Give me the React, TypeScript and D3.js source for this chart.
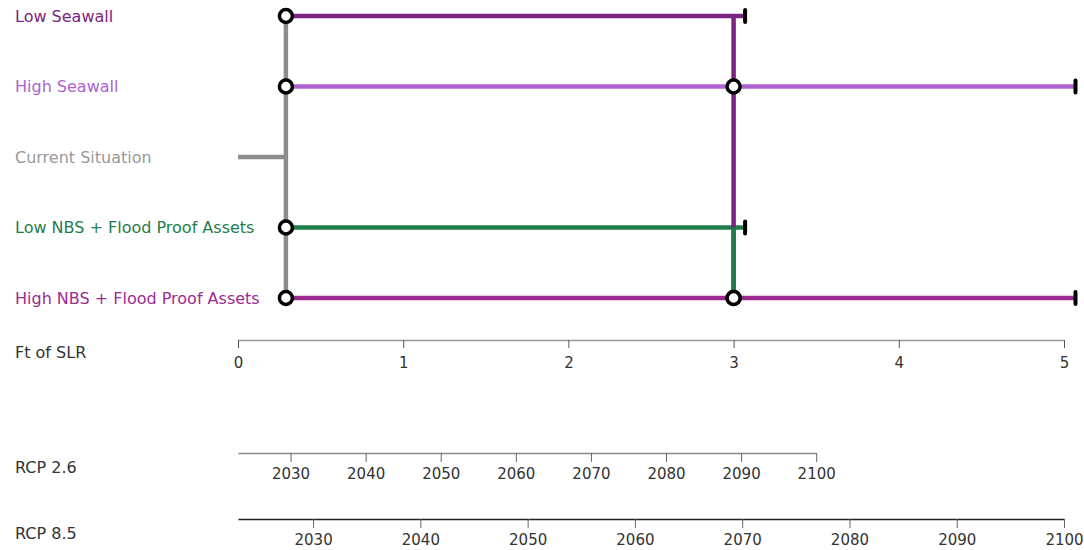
import React, { useEffect, useRef } from "react";
import * as d3 from "d3";

// ---------- data ----------
const pathwayNames = [
  "Low Seawall",
  "High Seawall",
  "Current Situation",
  "Low NBS + Flood Proof Assets",
  "High NBS + Flood Proof Assets",
];
const pathwayColors = ["#7b2482", "#b062d0", "#8c8c8c", "#1f7d4b", "#9c2b91"];
const labelColors = ["#7b2482", "#b062d0", "#999999", "#1f7d4b", "#9c2b91"];
// ft of SLR where each action starts / reaches its tipping point
const actionStart = [0.29, 0.29, 0, 0.29, 0.29];
const actionEnd = [3, 5, 0.29, 3, 5];
const hasTerminal = [true, true, false, true, true];
// transfers: from pathway -> to pathways at a given ft of SLR
const transferFrom = ["Current Situation", "Low Seawall", "Low NBS + Flood Proof Assets"];
const transferAt = [0.29, 3, 3];
const transferTo = [
  ["Low Seawall", "High Seawall", "Low NBS + Flood Proof Assets", "High NBS + Flood Proof Assets"],
  ["High Seawall", "High NBS + Flood Proof Assets"],
  ["High NBS + Flood Proof Assets"],
];

const slrTicks = [0, 1, 2, 3, 4, 5];
const rcpNames = ["RCP 2.6", "RCP 8.5"];
const rcpStartYear = 2023;
const rcpEndYear = 2100;
const rcpSlrAtEnd = [3.5, 5];
const yearTicks = [2030, 2040, 2050, 2060, 2070, 2080, 2090, 2100];

// ---------- layout ----------
const W = 1084;
const H = 550;
const FONT = "'DejaVu Sans', Verdana, sans-serif";

export default function App() {
  const ref = useRef<SVGSVGElement | null>(null);

  useEffect(() => {
    const svg = d3.select(ref.current);
    svg.selectAll("*").remove();

    const x = d3.scaleLinear().domain([0, 5]).range([238, 1064]);
    const y = d3.scalePoint<string>().domain(pathwayNames).range([16, 298]);
    const overshoot = 11.5;

    // labels
    svg
      .append("g")
      .selectAll("text")
      .data(pathwayNames)
      .join("text")
      .attr("x", 15)
      .attr("y", (d) => y(d)!)
      .attr("dominant-baseline", "central")
      .attr("font-family", FONT)
      .attr("font-size", 16)
      .attr("fill", (_, i) => labelColors[i])
      .text((d) => d);

    const g = svg.append("g");

    // horizontal lines
    pathwayNames.forEach((name, i) => {
      const x2 = x(actionEnd[i]) + (hasTerminal[i] ? overshoot : 0);
      g.append("line")
        .attr("x1", x(actionStart[i]))
        .attr("x2", x2)
        .attr("y1", y(name)!)
        .attr("y2", y(name)!)
        .attr("stroke", pathwayColors[i])
        .attr("stroke-width", 4.5);
    });

    // transfer verticals
    transferFrom.forEach((from, k) => {
      const fi = pathwayNames.indexOf(from);
      const ys = [from, ...transferTo[k]].map((n) => y(n)!);
      g.append("line")
        .attr("x1", x(transferAt[k]))
        .attr("x2", x(transferAt[k]))
        .attr("y1", d3.min(ys)!)
        .attr("y2", d3.max(ys)!)
        .attr("stroke", pathwayColors[fi])
        .attr("stroke-width", 4.5);
    });

    // terminal ticks
    pathwayNames.forEach((name, i) => {
      if (!hasTerminal[i]) return;
      const xe = x(actionEnd[i]) + overshoot;
      g.append("line")
        .attr("x1", xe)
        .attr("x2", xe)
        .attr("y1", y(name)! - 6)
        .attr("y2", y(name)! + 6)
        .attr("stroke", "#000")
        .attr("stroke-width", 4)
        .attr("stroke-linecap", "round");
    });

    // circles at action starts and transfer targets
    const circles: { x: number; y: number }[] = [];
    pathwayNames.forEach((name, i) => {
      if (name === "Current Situation") return;
      circles.push({ x: x(actionStart[i]), y: y(name)! });
    });
    transferFrom.forEach((from, k) => {
      if (from === "Current Situation") return;
      transferTo[k].forEach((t) => circles.push({ x: x(transferAt[k]), y: y(t)! }));
    });
    g.selectAll("circle.node")
      .data(circles)
      .join("circle")
      .attr("class", "node")
      .attr("cx", (d) => d.x)
      .attr("cy", (d) => d.y)
      .attr("r", 6.5)
      .attr("fill", "#fff")
      .attr("stroke", "#000")
      .attr("stroke-width", 3.5);

    // SLR axis
    const slrY = 340;
    const slrAxis = svg
      .append("g")
      .attr("transform", `translate(0,${slrY})`)
      .call(
        d3.axisBottom(x).tickValues(slrTicks).tickFormat(d3.format("d")).tickSize(8).tickSizeOuter(0).tickPadding(9)
      );
    slrAxis.select(".domain").attr("stroke", "#999").attr("stroke-width", 1.5);
    slrAxis.selectAll(".tick line").attr("stroke", "#555");
    slrAxis.selectAll("text").attr("font-family", FONT).attr("font-size", 15).attr("fill", "#333");

    svg
      .append("text")
      .attr("x", 15)
      .attr("y", 352)
      .attr("dominant-baseline", "central")
      .attr("font-family", FONT)
      .attr("font-size", 16)
      .attr("fill", "#333")
      .text("Ft of SLR");

    // RCP axes
    const rcpY = [453, 519];
    const rcpLineColors = ["#888", "#222"];
    rcpNames.forEach((name, i) => {
      const yr = d3
        .scaleLinear()
        .domain([rcpStartYear, rcpEndYear])
        .range([x(0), x(rcpSlrAtEnd[i])]);
      const ax = svg
        .append("g")
        .attr("transform", `translate(0,${rcpY[i]})`)
        .call(d3.axisBottom(yr).tickValues(yearTicks).tickFormat(d3.format("d")).tickSize(9).tickSizeOuter(0).tickPadding(6));
      ax.select(".domain").attr("stroke", rcpLineColors[i]).attr("stroke-width", 1.5);
      ax.selectAll(".tick line").attr("stroke", "#666");
      ax.selectAll("text").attr("font-family", FONT).attr("font-size", 15).attr("fill", "#333");
      svg
        .append("text")
        .attr("x", 15)
        .attr("y", rcpY[i] + 14)
        .attr("dominant-baseline", "central")
        .attr("font-family", FONT)
        .attr("font-size", 16)
        .attr("fill", "#333")
        .text(name);
    });
  }, []);

  return (
    <svg
      ref={ref}
      width={W}
      height={H}
      style={{ position: "absolute", left: 0, top: 0, background: "#fff" }}
    />
  );
}
